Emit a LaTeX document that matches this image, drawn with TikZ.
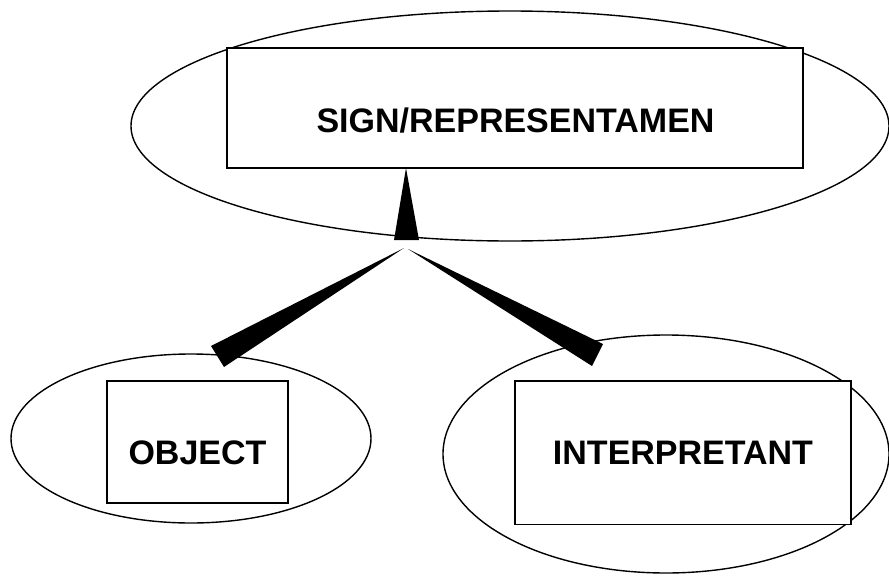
\documentclass[tikz,border=0pt]{standalone}
\usepackage{fontspec}
\setmainfont{Liberation Sans}
\usetikzlibrary{shapes.geometric}
\begin{document}
\begin{tikzpicture}[x=1pt,y=-1pt,
  oval/.style={draw,ellipse,line width=1.4pt,inner sep=0pt},
  framebox/.style={draw,fill=white,rectangle,line width=1.9pt,inner sep=0pt},
  lbl/.style={anchor=base,inner sep=0pt,font=\bfseries\fontsize{34}{40}\selectfont},
  wedge/.style={fill=black,draw=none}]
\useasboundingbox (0,0) rectangle (889,576);
% ellipses
\node[oval,minimum width=758pt,minimum height=230pt] (signoval) at (510,126) {};
\node[oval,minimum width=360pt,minimum height=169pt] (objoval) at (191,438.5) {};
\node[oval,minimum width=446pt,minimum height=238pt] (intoval) at (666,454) {};
% boxes
\node[framebox,minimum width=576pt,minimum height=120pt] (signbox) at (515,108) {};
\node[framebox,minimum width=181.6pt,minimum height=122pt] (objbox) at (197.5,442) {};
\node[framebox,minimum width=336pt,minimum height=143.5pt] (intbox) at (683,452.7) {};
% labels
\node[lbl] (signtxt) at (515.5,132.7) {SIGN/REPRESENTAMEN};
\node[lbl] (objtxt) at (197.5,464.3) {OBJECT};
\node[lbl] (inttxt) at (683,464.3) {INTERPRETANT};
% wedges
\coordinate (uptip) at (406,168);
\coordinate (upa) at (394,240);
\coordinate (upb) at (419,240);
\coordinate (ltip) at (404,248);
\coordinate (la) at (211,346);
\coordinate (lb) at (224,367);
\coordinate (rtip) at (408,249);
\coordinate (ra) at (603,344);
\coordinate (rb) at (592,366);
\fill[wedge] (uptip) -- (upa) -- (upb) -- cycle;
\fill[wedge] (ltip) -- (la) -- (lb) -- cycle;
\fill[wedge] (rtip) -- (ra) -- (rb) -- cycle;
\end{tikzpicture}
\end{document}
